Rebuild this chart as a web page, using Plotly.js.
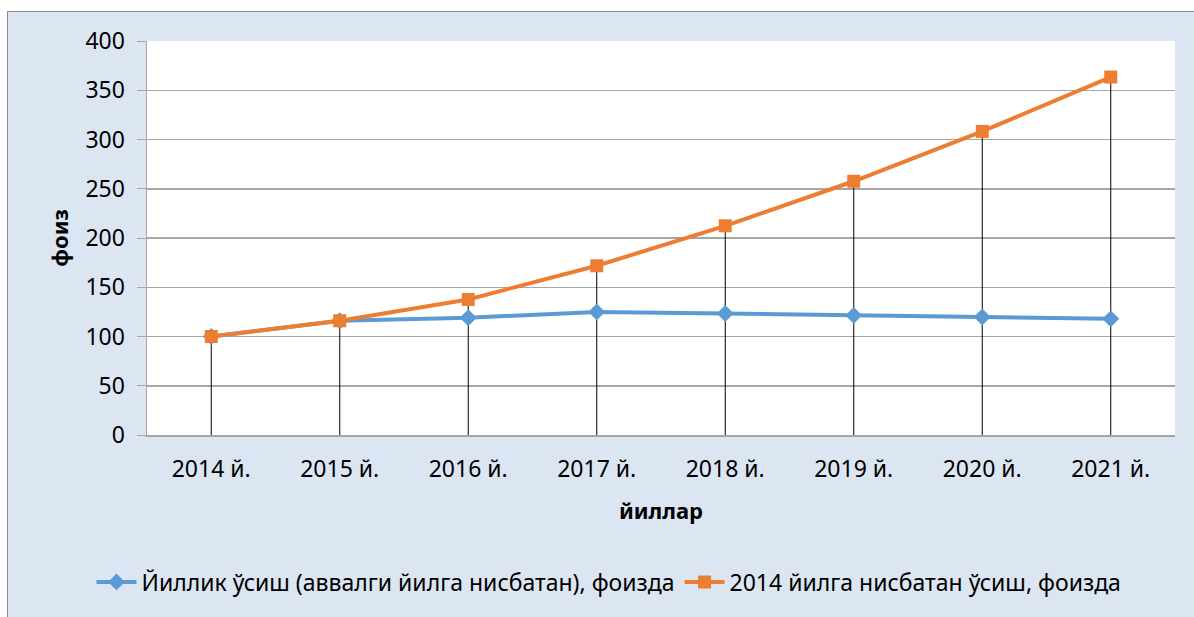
<!DOCTYPE html>
<html>
<head>
<meta charset="utf-8">
<script src="https://cdn.plot.ly/plotly-3.0.1.min.js"></script>
<style>
  html, body { margin: 0; padding: 0; background: #ffffff; width: 1194px; height: 617px; overflow: hidden; }
  #chart { position: absolute; left: 7px; top: 11px; width: 1190px; height: 610px;
           border-left: 1px solid #8c8c8c; border-top: 1px solid #8c8c8c; background: #dce6f2; }
</style>
</head>
<body>
<div id="chart"></div>
<script>
const categories = ["2014 й.", "2015 й.", "2016 й.", "2017 й.", "2018 й.", "2019 й.", "2020 й.", "2021 й."];
const annualGrowth = [100, 116, 119, 125, 123.4, 121.4, 119.8, 117.9];
const growthVs2014 = [100, 116, 137.6, 171.8, 212.4, 257.6, 308.2, 363.4];
const seriesNames = ["Йиллик ўсиш (аввалги йилга нисбатан), фоизда", "2014 йилга нисбатан ўсиш, фоизда"];
const yTicks = [0, 50, 100, 150, 200, 250, 300, 350, 400];

const FONT = "Noto Sans, Open Sans, DejaVu Sans, sans-serif";
const dropTop = categories.map((c, i) => Math.max(annualGrowth[i], growthVs2014[i]));

const traces = [
  {
    x: categories, y: dropTop, type: "scatter", mode: "markers",
    marker: { opacity: 0, size: 1 }, showlegend: false, hoverinfo: "skip",
    error_y: { type: "data", symmetric: false, array: dropTop.map(() => 0), arrayminus: dropTop,
               color: "#000000", thickness: 1, width: 0 }
  },
  {
    x: categories, y: annualGrowth, type: "scatter", mode: "lines+markers", name: seriesNames[0],
    line: { color: "#5b9bd5", width: 4 },
    marker: { symbol: "diamond", size: 13, color: "#5b9bd5" }
  },
  {
    x: categories, y: growthVs2014, type: "scatter", mode: "lines+markers", name: seriesNames[1],
    line: { color: "#ed7d31", width: 4 },
    marker: { symbol: "square", size: 13, color: "#ed7d31" }
  }
];

const layout = {
  width: 1190, height: 610,
  paper_bgcolor: "#dce6f2", plot_bgcolor: "#ffffff",
  margin: { l: 139, r: 23, t: 29, b: 187, autoexpand: false },
  font: { family: FONT, size: 23, color: "#000000" },
  xaxis: {
    type: "category", showgrid: false, showline: true, linecolor: "#a6a6a6", linewidth: 1.5,
    ticks: "", ticklabelstandoff: 13, tickfont: { size: 23 },
    title: { text: "<b>йиллар</b>", font: { size: 22 }, standoff: 20 },
    range: [-0.5, 7.5], fixedrange: true
  },
  yaxis: {
    range: [0, 400], tickvals: yTicks, ticks: "outside", ticklen: 9, tickcolor: "#a6a6a6",
    showgrid: true, gridcolor: "#a6a6a6", gridwidth: 1.5, zeroline: false,
    showline: true, linecolor: "#a6a6a6", linewidth: 1.5,
    ticklabelstandoff: 7, tickfont: { size: 23 },
    title: { text: "<b>фоиз</b>", font: { size: 22 }, standoff: 10 },
    fixedrange: true
  },
  legend: {
    orientation: "h", x: -0.054, xanchor: "left", y: -0.373, yanchor: "middle",
    bgcolor: "rgba(0,0,0,0)", font: { size: 23 }, itemwidth: 40, tracegroupgap: 0
  },
  showlegend: true
};

Plotly.newPlot("chart", traces, layout, { staticPlot: true });
</script>
</body>
</html>
